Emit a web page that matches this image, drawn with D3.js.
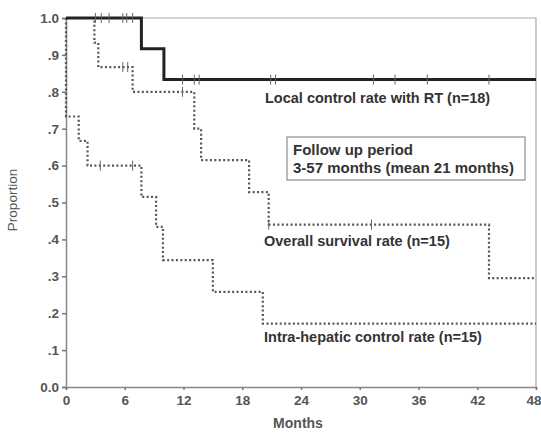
<!DOCTYPE html>
<html><head><meta charset="utf-8">
<script src="https://cdn.jsdelivr.net/npm/d3@7"></script>
<style>
body{margin:0;background:#fff;}
text{font-family:"Liberation Sans",Arial,sans-serif;}
</style></head>
<body>
<svg id="c" width="541" height="433"></svg>
<script>
// ---- data ----
const xTicks = [0, 6, 12, 18, 24, 30, 36, 42, 48];
const yTicks = [0, 0.1, 0.2, 0.3, 0.4, 0.5, 0.6, 0.7, 0.8, 0.9, 1.0];
const yTickLabels = ["0.0", ".1", ".2", ".3", ".4", ".5", ".6", ".7", ".8", ".9", "1.0"];

const localTimes = [0, 7.7, 10, 48];
const localValues = [1, 0.917, 0.833, 0.833];
const localCensor = [3.0, 3.6, 4.4, 5.8, 6.2, 6.8, 11.9, 13.1, 13.6, 20.9, 21.4, 31.4, 33.6, 36.9, 43.2];

const overallTimes = [0, 2.9, 3.3, 6.8, 13.1, 13.8, 18.7, 20.7, 43.2, 48];
const overallValues = [1, 0.933, 0.867, 0.8, 0.70, 0.615, 0.528, 0.44, 0.295, 0.295];
const overallCensor = [5.8, 6.3, 11.9, 20.7, 31.2];

const intraTimes = [0, 0, 1.3, 2.2, 7.7, 9.2, 9.9, 15, 20.1, 48];
const intraValues = [1, 0.733, 0.667, 0.6, 0.515, 0.434, 0.344, 0.258, 0.172, 0.172];
const intraCensor = [3.5, 6.8];

const seriesLabels = ["Local control rate with RT (n=18)", "Overall survival rate (n=15)", "Intra-hepatic control rate (n=15)"];
const noteLines = ["Follow up period", "3-57 months (mean 21 months)"];

// ---- layout ----
const W = 541, H = 433;
const m = {left: 66, right: 5, top: 18, bottom: 46};
const svg = d3.select("#c");
const x = d3.scaleLinear().domain([0, 48]).range([m.left, W - m.right]);
const y = d3.scaleLinear().domain([0, 1]).range([H - m.bottom, m.top]);

// frame (top & right)
svg.append("path")
  .attr("d", `M${x(0)},${y(1)}H${x(48)}V${y(0)}`)
  .attr("fill", "none").attr("stroke", "#aaa").attr("stroke-width", 1.2);

// axes
const yAxis = svg.append("g").attr("transform", `translate(${x(0)},0)`)
  .call(d3.axisLeft(y).tickValues(yTicks).tickSize(4).tickPadding(3)
    .tickFormat((d, i) => yTickLabels[i]));
const xAxis = svg.append("g").attr("transform", `translate(0,${y(0)})`)
  .call(d3.axisBottom(x).tickValues(xTicks).tickSize(3).tickPadding(5));
[yAxis, xAxis].forEach(g => {
  g.select(".domain").attr("stroke", "#888").attr("stroke-width", 1.5);
  g.selectAll(".tick line").attr("stroke", "#777").attr("stroke-width", 1.5);
  g.selectAll(".tick text").attr("fill", "#555").attr("font-size", 13.5).attr("font-weight", "bold");
});
xAxis.selectAll(".tick text").filter(d => d === 48).attr("text-anchor", "end").attr("dx", 5);

// curves
const line = d3.line().x(d => x(d[0])).y(d => y(d[1])).curve(d3.curveStepAfter);
function stepAt(times, values, t) {
  let v = values[0];
  for (let i = 0; i < times.length; i++) if (times[i] <= t) v = values[i];
  return v;
}
function drawSeries(times, values, censor, style) {
  const pts = times.map((t, i) => [t, values[i]]);
  svg.append("path").datum(pts).attr("d", line)
    .attr("fill", "none").attr("stroke", style.color)
    .attr("stroke-width", style.width)
    .attr("stroke-dasharray", style.dash || null);
  svg.append("g").selectAll("line").data(censor).join("line")
    .attr("x1", d => x(d)).attr("x2", d => x(d))
    .attr("y1", d => y(stepAt(times, values, d)) - 5)
    .attr("y2", d => y(stepAt(times, values, d)) + 5)
    .attr("stroke", "#666").attr("stroke-width", 1);
}
drawSeries(intraTimes, intraValues, intraCensor, {color: "#555", width: 2.2, dash: "2,2.4"});
drawSeries(overallTimes, overallValues, overallCensor, {color: "#555", width: 2.2, dash: "2,2.4"});
drawSeries(localTimes, localValues, localCensor, {color: "#222", width: 3});

// series labels
const labelPos = [[265, 103], [264, 246], [264, 342]];
svg.append("g").selectAll("text").data(seriesLabels).join("text")
  .attr("x", (d, i) => labelPos[i][0]).attr("y", (d, i) => labelPos[i][1])
  .attr("font-size", 14.5).attr("font-weight", "bold").attr("fill", "#333")
  .text(d => d);

// note box
svg.append("rect").attr("x", 287).attr("y", 137).attr("width", 238).attr("height", 43)
  .attr("fill", "none").attr("stroke", "#777").attr("stroke-width", 1);
svg.append("g").selectAll("text").data(noteLines).join("text")
  .attr("x", 293).attr("y", (d, i) => 155 + i * 18)
  .attr("font-size", 15).attr("font-weight", "bold").attr("fill", "#333")
  .text(d => d);

// axis titles
svg.append("text").attr("transform", `translate(17,200) rotate(-90)`)
  .attr("text-anchor", "middle").attr("font-size", 13.5).attr("fill", "#555").text("Proportion");
svg.append("text").attr("x", 298).attr("y", 428).attr("text-anchor", "middle")
  .attr("font-size", 14).attr("font-weight", "bold").attr("fill", "#555").text("Months");
</script>
</body></html>
